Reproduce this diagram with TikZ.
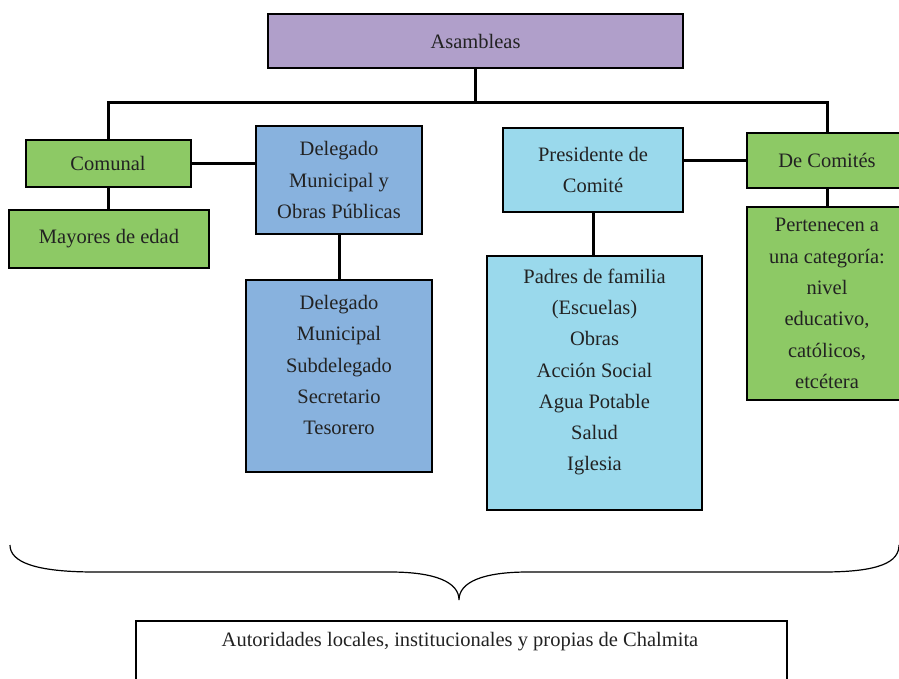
\documentclass[tikz,border=0pt]{standalone}
\usepackage{fontspec}
\setmainfont{Liberation Serif}
\definecolor{lila}{HTML}{B09FCA}
\definecolor{verde}{HTML}{8DC965}
\definecolor{azul}{HTML}{88B2DE}
\definecolor{celeste}{HTML}{9AD9EC}
\definecolor{tinta}{HTML}{222222}
\usetikzlibrary{positioning, calc}
\tikzset{
  box/.style={
    draw=black, fill=#1, line width=2pt, inner sep=0pt,
    font=\fontsize{20.5}{31.3}\selectfont, text=tinta, align=center
  },
  box/.default=verde,
  txt/.style={font=\fontsize{20.5}{31.3}\selectfont, text=tinta, align=center, inner sep=0pt},
  link/.style={draw=black, line width=3pt},
  brace/.style={draw=black, line width=1.2pt},
}
\begin{document}
\begin{tikzpicture}[x=1pt, y=-1pt]
    \useasboundingbox (0,0) rectangle (899,679);

    % cabecera
    \node[box=lila, minimum width=415, minimum height=54] (asam) at (475.5,41) {Asambleas};
    \coordinate (busy) at (0,103);
    \coordinate (bus) at (asam.south |- busy);

    % rama izquierda
    \node[box=verde, minimum width=165, minimum height=47] (comunal) at (108,163.5) {Comunal};
    \node[box=verde, minimum width=200, minimum height=58] (mayores) at (109,239) {Mayores de edad};

    \node[box=azul, minimum width=166, minimum height=108] (deleg) at (339,180)
      {Delegado\\Municipal y\\Obras P\'ublicas};
    \node[box=azul, minimum width=186, minimum height=192] (ofic) at (339,376) {};
    \node[txt] (ofictxt) at (339,365)
      {Delegado\\Municipal\\Subdelegado\\Secretario\\Tesorero};

    % rama derecha
    \node[box=celeste, minimum width=180, minimum height=84] (pres) at (593,170)
      {Presidente de\\Comit\'e};
    \node[box=celeste, minimum width=215, minimum height=254] (padres) at (594.5,383) {};
    \node[txt] (padrestxt) at (594.5,372)
      {Padres de familia\\(Escuelas)\\Obras\\Acci\'on Social\\Agua Potable\\Salud\\Iglesia};

    \node[box=verde, minimum width=160, minimum height=55] (comites) at (827,160.5) {De Comit\'es};
    \node[box=verde, minimum width=160, minimum height=193] (perten) at (827,303.5)
      {Pertenecen a\\una categor\'ia:\\nivel\\educativo,\\cat\'olicos,\\etc\'etera};

    % conectores
    \draw[link] (asam.south) -- (bus);
    \draw[link] (bus) -| (comunal.north);
    \draw[link] (bus) -| (comites.north);
    \draw[link] (comunal.south) -- (comunal.south |- mayores.north);
    \draw[link] (comunal.east) -- (deleg.west |- comunal.east);
    \draw[link] (deleg.south) -- (deleg.south |- ofic.north);
    \draw[link] (pres.south) -- (pres.south |- padres.north);
    \draw[link] (comites.west) -- (pres.east |- comites.west);
    \draw[link] (comites.south) -- (comites.south |- perten.north);

    % llave y pie
    \coordinate (bizq) at (10,545);
    \coordinate (bpico) at (459,600);
    \coordinate (bder) at (899,545);
    \draw[brace] (bizq) .. controls (10,562) and (35,572) .. (95,572) -- (390,572)
      .. controls (435,572) and (459,582) .. (bpico)
      .. controls (459,582) and (483,572) .. (528,572) -- (823,572)
      .. controls (880,572) and (899,562) .. (bder);

    \node[draw=black, line width=2pt, minimum width=651, minimum height=100, anchor=north west]
      (autor) at (135,620) {};
    \node[txt] (autortxt) at (460,642) {Autoridades locales, institucionales y propias de Chalmita};
  \end{tikzpicture}
\end{document}
